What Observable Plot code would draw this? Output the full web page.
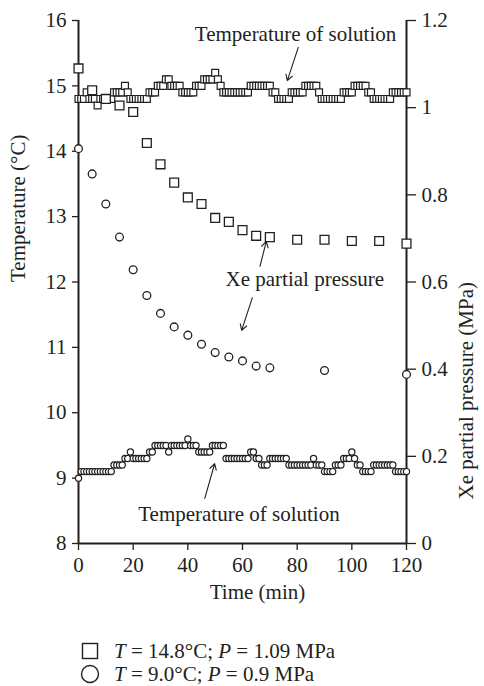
<!DOCTYPE html>
<html><head><meta charset="utf-8">
<script src="https://cdn.jsdelivr.net/npm/d3@7"></script>
<script src="https://cdn.jsdelivr.net/npm/@observablehq/plot@0.6"></script>
<style>
body{margin:0;background:#fff;}
#wrap{position:relative;width:484px;height:686px;font-family:"Liberation Serif",serif;color:#231f20;overflow:hidden;}
.leg{position:absolute;font-size:21px;white-space:nowrap;line-height:1;}
.sym{position:absolute;}
</style></head><body><div id="wrap"></div>
<script>
// Time of temperature record (min)
const minutes = [
 0,1,2,3,4,5,6,7,8,9,10,11,12,13,14,15,16,17,18,19,20,21,22,23,24,25,26,27,28,29,
 30,31,32,33,34,35,36,37,38,39,40,41,42,43,44,45,46,47,48,49,50,51,52,53,54,55,56,57,58,59,
 60,61,62,63,64,65,66,67,68,69,70,71,72,73,74,75,76,77,78,79,80,81,82,83,84,85,86,87,88,89,
 90,91,92,93,94,95,96,97,98,99,100,101,102,103,104,105,106,107,108,109,110,111,112,113,114,115,116,117,118,119,120];
// Temperature of solution, run T = 14.8 C (squares)
const tempSquare = [
 14.8,14.8,14.8,14.9,14.8,14.8,14.8,14.7,14.8,14.8,
 14.8,14.8,14.8,14.9,14.9,14.9,14.9,15.0,14.9,14.8,
 14.8,14.8,14.8,14.8,14.8,14.8,14.9,14.9,14.9,15.0,
 15.0,15.0,15.1,15.1,15.0,15.0,15.0,15.0,14.9,14.9,
 14.9,14.9,14.9,15.0,15.0,15.0,15.1,15.1,15.1,15.1,
 15.2,15.1,15.0,14.9,14.9,14.9,14.9,14.9,14.9,14.9,
 14.9,14.9,14.9,15.0,15.0,15.0,15.0,15.0,15.0,15.0,
 15.0,14.9,14.9,14.8,14.8,14.8,14.8,14.8,14.9,14.9,
 14.9,14.9,14.9,15.0,15.0,15.0,15.0,15.0,14.9,14.8,
 14.8,14.8,14.8,14.8,14.8,14.8,14.8,14.9,14.9,14.9,
 14.9,15.0,15.0,15.0,15.0,15.0,14.9,14.9,14.8,14.8,
 14.8,14.8,14.8,14.8,14.8,14.9,14.9,14.9,14.9,14.9,
 14.9];
// Temperature of solution, run T = 9.0 C (circles)
const tempCircle = [
 9.0,9.1,9.1,9.1,9.1,9.1,9.1,9.1,9.1,9.1,
 9.1,9.1,9.1,9.2,9.2,9.2,9.2,9.3,9.3,9.4,
 9.3,9.3,9.3,9.3,9.3,9.3,9.4,9.4,9.5,9.5,
 9.5,9.5,9.5,9.4,9.5,9.5,9.5,9.5,9.5,9.5,
 9.6,9.5,9.5,9.5,9.4,9.4,9.4,9.4,9.4,9.5,
 9.5,9.5,9.5,9.5,9.3,9.3,9.3,9.3,9.3,9.3,
 9.3,9.3,9.3,9.4,9.4,9.3,9.3,9.2,9.2,9.2,
 9.3,9.3,9.3,9.3,9.3,9.3,9.3,9.2,9.2,9.2,
 9.2,9.2,9.2,9.2,9.2,9.2,9.3,9.2,9.2,9.2,
 9.1,9.1,9.1,9.1,9.2,9.2,9.2,9.3,9.3,9.3,
 9.4,9.3,9.2,9.2,9.1,9.1,9.1,9.1,9.2,9.2,
 9.2,9.2,9.2,9.2,9.2,9.2,9.1,9.1,9.1,9.1,
 9.1];
// Xe partial pressure (MPa)
const pressSquareTime = [0,5,10,15,20,25,30,35,40,45,50,55,60,65,70,80,90,100,110,120];
const pressSquare = [1.09,1.04,1.02,1.005,0.99,0.919,0.870,0.828,0.794,0.779,0.747,0.738,0.719,0.706,0.703,0.697,0.697,0.694,0.694,0.688];
const pressCircleTime = [0,5,10,15,20,25,30,35,40,45,50,55,60,65,70,90,120];
const pressCircle = [0.906,0.848,0.779,0.703,0.628,0.569,0.528,0.497,0.478,0.457,0.438,0.428,0.419,0.407,0.403,0.397,0.388];

const xTicks = [0,20,40,60,80,100,120];
const tTicks = [8,9,10,11,12,13,14,15,16];
const pTicks = [0,0.2,0.4,0.6,0.8,1,1.2];

// annotations (time, temperature-axis units)
const noteText = ["Temperature of solution","Xe partial pressure","Temperature of solution"];
const noteX = [79.4, 82.8, 58.7];
const noteY = [15.79, 12.04, 8.44];
const arrowX1 = [80.4, 66.4, 63.6, 46.2];
const arrowY1 = [15.59, 12.24, 11.76, 8.69];
const arrowX2 = [76.4, 68.7, 59.7, 49.8];
const arrowY2 = [15.08, 12.62, 11.26, 9.22];

// right axis: pressure 0..1.2 MPa mapped on 8..16 C
const toT = p => 8 + p / 0.15;
const fromT = t => +((t - 8) * 0.15).toFixed(1);

const ink = "#231f20";
const sqT = minutes.map((t, i) => ({t, v: tempSquare[i]}));
const ciT = minutes.map((t, i) => ({t, v: tempCircle[i]}));
const sqP = pressSquareTime.map((t, i) => ({t, v: toT(pressSquare[i])}));
const ciP = pressCircleTime.map((t, i) => ({t, v: toT(pressCircle[i])}));
const notes = noteText.map((s, i) => ({s, x: noteX[i], y: noteY[i]}));
const arrows = arrowX1.map((d, i) => ({x1: d, y1: arrowY1[i], x2: arrowX2[i], y2: arrowY2[i]}));

const chart = Plot.plot({
  width: 484, height: 620,
  marginLeft: 78, marginRight: 78, marginTop: 20, marginBottom: 77,
  style: {fontFamily: "Liberation Serif, serif", fontSize: "21px", color: ink, background: "white"},
  x: {domain: [0, 120]},
  y: {domain: [8, 16]},
  marks: [
    Plot.axisX({ticks: xTicks, tickSize: 7, tickPadding: 7, label: null, stroke: ink, strokeWidth: 1.3}),
    Plot.axisY({anchor: "left", ticks: tTicks, tickSize: 6, tickPadding: 6, label: null, stroke: ink, strokeWidth: 1.3}),
    Plot.axisY({anchor: "right", ticks: pTicks.map(toT), tickFormat: fromT, tickSize: 9, tickPadding: 6, label: null, stroke: ink, strokeWidth: 1.3}),
    Plot.ruleX([0, 120], {stroke: ink, strokeWidth: 2}),
    Plot.ruleY([8], {stroke: ink, strokeWidth: 2}),
    Plot.text(["Temperature (°C)"], {frameAnchor: "left", rotate: -90, dx: -60, fill: ink}),
    Plot.text(["Xe partial pressure (MPa)"], {frameAnchor: "right", rotate: -90, dx: 60, fill: ink}),
    Plot.text(["Time (min)"], {frameAnchor: "bottom", dy: 55, dx: 15, fill: ink}),
    Plot.dot(sqT, {x: "t", y: "v", symbol: "square", r: 3.9, fill: "white", stroke: ink, strokeWidth: 1.2}),
    Plot.dot(ciT, {x: "t", y: "v", symbol: "circle", r: 3.1, fill: "white", stroke: ink, strokeWidth: 1.2}),
    Plot.dot(sqP, {x: "t", y: "v", symbol: "square", r: 5, fill: "white", stroke: ink, strokeWidth: 1.3}),
    Plot.dot(ciP, {x: "t", y: "v", symbol: "circle", r: 3.9, fill: "white", stroke: ink, strokeWidth: 1.3}),
    Plot.arrow(arrows, {x1: "x1", y1: "y1", x2: "x2", y2: "y2", stroke: ink, strokeWidth: 1.1, headLength: 9}),
    Plot.text(notes, {x: "x", y: "y", text: "s", fill: ink})
  ]
});

const wrap = document.getElementById("wrap");
chart.style.position = "absolute";
chart.style.left = "0px";
chart.style.top = "0px";
wrap.appendChild(chart);

const legendItems = [
  {html: '<i>T</i> = 14.8°C; <i>P</i> = 1.09 MPa', sym: "square", top: 641},
  {html: '<i>T</i> = 9.0°C; <i>P</i> = 0.9 MPa', sym: "circle", top: 664}
];
for (const it of legendItems) {
  const ns = "http://www.w3.org/2000/svg";
  const s = document.createElementNS(ns, "svg");
  s.setAttribute("width", 20); s.setAttribute("height", 20);
  s.setAttribute("class", "sym");
  s.style.left = "80px"; s.style.top = (it.top) + "px";
  if (it.sym === "square") {
    const r = document.createElementNS(ns, "rect");
    r.setAttribute("x", 2.5); r.setAttribute("y", 2.5); r.setAttribute("width", 15); r.setAttribute("height", 15);
    r.setAttribute("fill", "white"); r.setAttribute("stroke", ink); r.setAttribute("stroke-width", 1.4);
    s.appendChild(r);
  } else {
    const c = document.createElementNS(ns, "circle");
    c.setAttribute("cx", 10); c.setAttribute("cy", 10); c.setAttribute("r", 8.5);
    c.setAttribute("fill", "white"); c.setAttribute("stroke", ink); c.setAttribute("stroke-width", 1.4);
    s.appendChild(c);
  }
  wrap.appendChild(s);
  const d = document.createElement("div");
  d.className = "leg";
  d.style.left = "114px"; d.style.top = it.top + "px";
  d.innerHTML = it.html;
  wrap.appendChild(d);
}
</script></body></html>
